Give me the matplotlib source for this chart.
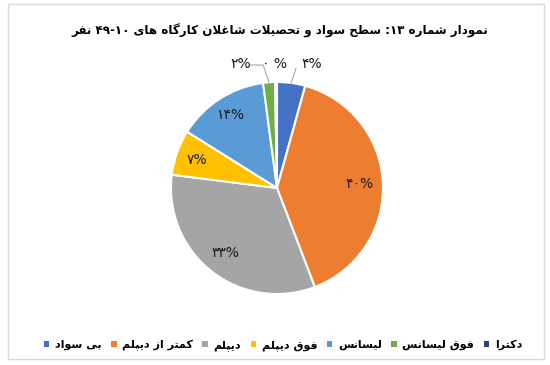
import matplotlib
matplotlib.use("Agg")
import matplotlib.pyplot as plt
from matplotlib.patches import Rectangle, Patch
import numpy as np

# ---------------- data ----------------
title_text = "نمودار شماره ۱۳: سطح سواد و تحصیلات شاغلان کارگاه های ۴۹-۱۰ نفر"
categories = ["بی سواد", "کمتر از دیپلم", "دیپلم", "فوق دیپلم", "لیسانس", "فوق لیسانس", "دکترا"]
values = [4.3, 39.9, 32.8, 6.9, 14.0, 1.8, 0.3]
pct_labels = ["۴%", "۴۰%", "۳۳%", "۷%", "۱۴%", "۲%", "۰ %"]
colors = ["#4472C4", "#ED7D31", "#A5A5A5", "#FFC000", "#5B9BD5", "#70AD47", "#264478"]

# ---------------- simple Arabic/Persian shaping ----------------
FORMS = {
    '\u0627': ('\uFE8D', '\uFE8E', None, None),
    '\u062F': ('\uFEA9', '\uFEAA', None, None),
    '\u0631': ('\uFEAD', '\uFEAE', None, None),
    '\u0632': ('\uFEAF', '\uFEB0', None, None),
    '\u0648': ('\uFEED', '\uFEEE', None, None),
    '\u0628': ('\uFE8F', '\uFE90', '\uFE91', '\uFE92'),
    '\u062A': ('\uFE95', '\uFE96', '\uFE97', '\uFE98'),
    '\u062D': ('\uFEA1', '\uFEA2', '\uFEA3', '\uFEA4'),
    '\u0633': ('\uFEB1', '\uFEB2', '\uFEB3', '\uFEB4'),
    '\u0634': ('\uFEB5', '\uFEB6', '\uFEB7', '\uFEB8'),
    '\u0635': ('\uFEB9', '\uFEBA', '\uFEBB', '\uFEBC'),
    '\u0637': ('\uFEC1', '\uFEC2', '\uFEC3', '\uFEC4'),
    '\u063A': ('\uFECD', '\uFECE', '\uFECF', '\uFED0'),
    '\u0641': ('\uFED1', '\uFED2', '\uFED3', '\uFED4'),
    '\u0642': ('\uFED5', '\uFED6', '\uFED7', '\uFED8'),
    '\u0644': ('\uFEDD', '\uFEDE', '\uFEDF', '\uFEE0'),
    '\u0645': ('\uFEE1', '\uFEE2', '\uFEE3', '\uFEE4'),
    '\u0646': ('\uFEE5', '\uFEE6', '\uFEE7', '\uFEE8'),
    '\u0647': ('\uFEE9', '\uFEEA', '\uFEEB', '\uFEEC'),
    '\u067E': ('\uFB56', '\uFB57', '\uFB58', '\uFB59'),
    '\u06A9': ('\uFB8E', '\uFB8F', '\uFB90', '\uFB91'),
    '\u06AF': ('\uFB92', '\uFB93', '\uFB94', '\uFB95'),
    '\u06CC': ('\uFBFC', '\uFBFD', '\uFBFE', '\uFBFF'),
}


def dual(c):
    return c in FORMS and FORMS[c][2] is not None


def shape(s):
    out = []
    i = 0
    n = len(s)
    while i < n:
        c = s[i]
        if c not in FORMS:
            out.append(c)
            i += 1
            continue
        prev = s[i - 1] if i > 0 else ''
        join_prev = dual(prev)
        if c == '\u0644' and i + 1 < n and s[i + 1] == '\u0627':
            out.append('\uFEFC' if join_prev else '\uFEFB')
            i += 2
            continue
        nxt = s[i + 1] if i + 1 < n else ''
        join_next = dual(c) and nxt in FORMS
        iso, fin, ini, med = FORMS[c]
        if join_prev and join_next:
            out.append(med)
        elif join_prev:
            out.append(fin)
        elif join_next:
            out.append(ini)
        else:
            out.append(iso)
        i += 1
    return ''.join(out)


def is_digit(c):
    return '\u06F0' <= c <= '\u06F9' or '0' <= c <= '9'


def visual(s):
    s = shape(s)
    tokens = []
    i = 0
    while i < len(s):
        if is_digit(s[i]):
            j = i
            while j < len(s) and (is_digit(s[j]) or (s[j] == '-' and j + 1 < len(s) and is_digit(s[j + 1]))):
                j += 1
            tokens.append((True, s[i:j]))
            i = j
        else:
            j = i
            while j < len(s) and not is_digit(s[j]):
                j += 1
            tokens.append((False, s[i:j]))
            i = j
    res = []
    for isnum, t in reversed(tokens):
        res.append(t if isnum else t[::-1])
    return ''.join(res)


# ---------------- figure ----------------
plt.rcParams['font.family'] = ['DejaVu Sans']
W, H = 550, 365
fig = plt.figure(figsize=(W / 100, H / 100), dpi=100)
fig.patch.set_facecolor('white')
fig.patches.append(Rectangle((8 / W, 1 - 359 / H), 536 / W, 355 / H, transform=fig.transFigure,
                             fill=False, edgecolor='#D9D9D9', linewidth=1.0))

cx, cy, r = 277, 188, 106
ax = fig.add_axes([(cx - r) / W, 1 - (cy + r) / H, 2 * r / W, 2 * r / H])
wedges, _ = ax.pie(values, colors=colors, startangle=90, counterclock=False,
                   wedgeprops=dict(edgecolor='white', linewidth=1.5))
ax.set_xlim(-1, 1)
ax.set_ylim(-1, 1)
ax.set_aspect('equal')
ax.axis('off')

inside = {1: 0.78, 2: 0.78, 3: 0.80, 4: 0.82}
outside = {0: (0.33, 1.17), 5: (-0.34, 1.17), 6: (-0.02, 1.17)}
for i, w in enumerate(wedges):
    th = np.deg2rad((w.theta1 + w.theta2) / 2)
    if i in inside:
        d = inside[i]
        ax.text(d * np.cos(th), d * np.sin(th), pct_labels[i], ha='center', va='center',
                fontsize=10, color='#1a1a1a')
    else:
        x, y = outside[i]
        ax.text(x, y, pct_labels[i], ha='center', va='center', fontsize=10, color='#1a1a1a',
                clip_on=False)

# leader lines
lc = '#A6A6A6'
th0 = np.deg2rad((wedges[0].theta1 + wedges[0].theta2) / 2)
ax.plot([0.18, 1.0 * np.cos(th0)], [1.13, 1.0 * np.sin(th0)], color=lc, lw=0.8, clip_on=False)
th5 = np.deg2rad((wedges[5].theta1 + wedges[5].theta2) / 2)
ax.plot([-0.25, -0.13, 1.0 * np.cos(th5)], [1.16, 1.16, 1.0 * np.sin(th5)], color=lc, lw=0.8,
        clip_on=False)

# title
fig.text(280 / W, 1 - 31 / H, visual(title_text), ha='center', va='center', fontsize=8.6,
         fontweight='bold', color='black')

# legend
handles = [Patch(facecolor=c, edgecolor='none') for c in colors]
fig.legend(handles, [visual(c) for c in categories], loc='center', ncol=7,
           bbox_to_anchor=(283 / W, 1 - 345 / H), frameon=False,
           handlelength=0.5, handleheight=0.5, handletextpad=0.5, columnspacing=0.85,
           prop=dict(weight='bold', size=8))

fig.savefig('out.png', dpi=100, facecolor='white')
